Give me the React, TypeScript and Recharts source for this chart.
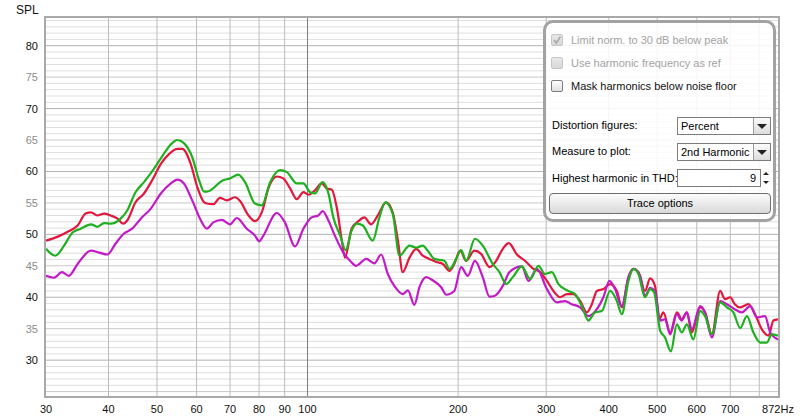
import React from 'react';
import { LineChart, Line, XAxis, YAxis, ReferenceLine } from 'recharts';

// frequency (Hz) / level (dB) pairs
const redHz = [30, 31.6, 33.3, 34.7, 36.0, 36.9, 38.0, 39.2, 40.4, 41.7, 42.8, 43.6, 45.3, 47.1, 48.9, 50.9, 52.9, 54.9, 56.2, 58.4, 60.2, 62.1, 62.9, 64.8, 66.8, 69.0, 71.6, 73.3, 76.2, 78.5, 81.1, 83.5, 86.8, 89.4, 92.3, 95.2, 98.1, 100.4, 103.5, 106.7, 109.3, 111.8, 114.5, 117.1, 118.8, 122.5, 126.4, 129.9, 134.0, 138.2, 143.6, 148.0, 151.6, 155.0, 159.9, 164.9, 170.0, 175.2, 180.8, 186.4, 192.2, 196.5, 201.9, 207.5, 215.5, 222.3, 231.1, 238.3, 245.7, 252.6, 262.1, 272.1, 282.8, 291.8, 301.0, 310.1, 319.9, 330.0, 340.0, 350.8, 361.8, 370.1, 378.8, 390.3, 402.7, 415.3, 424.9, 438.1, 448.1, 458.7, 472.7, 484.1, 495.0, 504.9, 514.5, 530.8, 547.5, 560.0, 573.2, 586.4, 609.4, 623.2, 643.1, 668.2, 683.3, 699.7, 714.7, 732.7, 761.3, 784.6, 809.5, 834.8, 853.8, 872];
const redDb = [49.0, 49.6, 50.5, 51.4, 53.3, 53.5, 53.0, 53.3, 53.0, 52.5, 51.7, 52.2, 55.1, 56.5, 58.6, 61.2, 62.8, 63.6, 63.6, 61.2, 57.5, 55.1, 54.9, 54.8, 55.8, 55.4, 55.9, 55.3, 53.0, 52.1, 53.6, 57.3, 59.2, 58.9, 57.3, 55.6, 56.7, 56.3, 57.0, 58.1, 57.3, 57.1, 54.1, 49.0, 46.3, 50.9, 52.1, 52.7, 51.6, 53.0, 55.1, 53.5, 49.0, 44.0, 46.3, 47.7, 46.6, 46.1, 45.6, 45.3, 44.2, 45.3, 47.4, 45.8, 47.4, 46.9, 44.8, 45.8, 47.7, 48.6, 46.8, 45.8, 44.5, 44.0, 42.6, 41.0, 40.0, 40.5, 40.5, 39.4, 37.6, 38.9, 41.0, 41.3, 42.1, 41.0, 38.4, 43.2, 44.5, 44.0, 41.0, 43.0, 41.8, 36.5, 37.6, 34.4, 37.6, 36.5, 37.6, 34.4, 38.4, 37.6, 34.1, 41.0, 39.7, 40.0, 38.9, 38.4, 38.9, 37.3, 34.9, 33.9, 36.3, 36.5];

const greenHz = [30, 31.3, 32.6, 33.9, 35.2, 36.9, 38.0, 39.2, 40.4, 42.3, 43.6, 45.3, 47.1, 49.3, 51.6, 53.6, 54.9, 56.6, 58.8, 60.7, 62.1, 62.9, 67.8, 70.0, 72.7, 75.0, 78.5, 81.0, 84.2, 88.1, 90.9, 95.2, 98.1, 101.2, 103.5, 107.2, 110.1, 112.6, 116.2, 119.2, 122.5, 125.5, 129.0, 135.0, 139.2, 143.0, 148.0, 152.7, 159.9, 164.9, 170.0, 173.9, 179.2, 187.7, 192.2, 198.2, 202.8, 207.5, 216.1, 224.0, 234.6, 241.9, 249.5, 257.2, 268.2, 278.6, 289.5, 298.4, 307.9, 317.4, 332.4, 342.6, 353.5, 364.4, 375.6, 387.5, 402.7, 415.3, 424.9, 438.1, 448.1, 458.7, 472.7, 484.1, 492.9, 506.9, 518.4, 532.5, 547.5, 560.0, 573.2, 590.6, 609.4, 623.2, 643.1, 668.2, 689.2, 710.1, 732.7, 755.7, 778.7, 803.4, 828.7, 847.7, 872];
const greenDb = [47.7, 46.6, 48.2, 50.3, 50.9, 51.6, 51.2, 51.8, 51.7, 52.5, 53.8, 56.7, 58.3, 60.4, 62.8, 64.5, 65.0, 64.5, 62.3, 58.6, 56.8, 56.8, 58.6, 58.9, 59.5, 58.3, 54.9, 54.6, 58.3, 60.2, 59.9, 58.1, 58.1, 56.7, 56.5, 58.3, 56.5, 52.7, 49.8, 47.5, 50.6, 51.7, 51.4, 49.0, 52.7, 55.1, 53.3, 46.6, 48.2, 47.9, 48.2, 47.4, 46.1, 45.8, 44.5, 46.1, 47.5, 45.8, 49.3, 48.2, 45.3, 44.0, 42.1, 43.2, 44.9, 42.9, 45.0, 43.7, 44.0, 42.1, 41.0, 40.5, 38.6, 36.3, 37.6, 37.8, 41.0, 39.4, 37.3, 42.6, 44.5, 43.7, 40.0, 41.3, 40.8, 34.7, 33.6, 31.4, 35.7, 34.4, 35.7, 33.3, 37.8, 37.0, 34.1, 39.2, 38.4, 37.6, 35.1, 37.0, 34.4, 32.8, 32.8, 34.1, 33.9];

const magentaHz = [30, 31.1, 32.3, 33.3, 34.7, 36.9, 38.3, 39.8, 41.3, 42.9, 44.6, 46.4, 48.6, 50.9, 53.3, 54.9, 56.6, 58.8, 61.2, 62.9, 64.8, 67.4, 70.0, 72.2, 75.6, 78.5, 80.1, 81.6, 86.8, 90.1, 94.4, 98.1, 101.9, 105.1, 107.2, 110.1, 113.4, 117.9, 121.6, 125.1, 131.0, 136.0, 140.3, 144.7, 149.1, 155.0, 158.7, 163.5, 167.4, 172.6, 177.9, 185.0, 189.3, 196.5, 202.8, 209.1, 216.1, 224.0, 231.1, 236.3, 245.7, 253.3, 268.2, 276.5, 287.4, 301.0, 315.1, 327.1, 337.5, 350.8, 364.4, 378.8, 390.3, 401.4, 411.8, 424.9, 438.1, 449.5, 462.3, 472.7, 484.1, 495.0, 506.9, 518.4, 530.8, 547.5, 560.0, 573.2, 586.4, 609.4, 623.2, 643.1, 668.2, 689.2, 714.7, 738.3, 767.2, 791.3, 821.5, 841.2, 872];
const magentaDb = [43.4, 43.1, 44.0, 43.4, 45.3, 47.4, 47.1, 46.8, 48.5, 50.1, 50.9, 52.5, 54.1, 56.5, 58.1, 58.7, 58.1, 55.4, 52.2, 50.9, 51.9, 52.3, 51.6, 52.6, 50.9, 49.8, 48.9, 49.8, 53.4, 51.9, 48.1, 50.9, 52.7, 53.0, 53.7, 52.2, 49.8, 47.1, 45.8, 45.0, 46.1, 45.4, 46.8, 43.7, 41.8, 40.5, 41.1, 38.8, 41.6, 43.2, 42.7, 41.6, 40.4, 41.0, 44.8, 43.4, 45.8, 43.2, 40.1, 40.2, 41.8, 44.0, 44.9, 42.6, 44.5, 41.3, 39.2, 39.4, 38.9, 38.4, 37.0, 38.1, 40.0, 42.6, 41.3, 38.6, 43.2, 44.5, 43.4, 40.2, 41.5, 41.0, 36.3, 36.5, 34.1, 37.3, 36.3, 37.6, 34.9, 38.6, 37.6, 33.6, 39.4, 38.9, 38.1, 37.6, 38.6, 36.8, 37.0, 34.4, 33.3];

const xTicks = [30, 40, 50, 60, 70, 80, 90, 100, 200, 300, 400, 500, 600, 700, 872];
const xGrid = [40, 50, 60, 70, 80, 90, 100, 200, 300, 400, 500, 600, 700, 800];
const yTicks = [30, 35, 40, 45, 50, 55, 60, 65, 70, 75, 80];
const yGrid = Array.from({ length: 60 }, (_, i) => 25 + i);

const font = '"Liberation Sans", Arial, sans-serif';

const toPoints = (hz: number[], db: number[]) => hz.map((f, i) => ({ f, db: db[i] }));
const redData = toPoints(redHz, redDb);
const greenData = toPoints(greenHz, greenDb);
const magentaData = toPoints(magentaHz, magentaDb);

const XTick = (props: any) => {
  const { x, y, payload } = props;
  const v = payload.value;
  return (
    <text x={x} y={y + 9} textAnchor="middle" fontSize={11} fontFamily={font} fill="#111">
      {v === 872 ? '872Hz' : v}
    </text>
  );
};

const YTick = (props: any) => {
  const { x, y, payload } = props;
  const v = payload.value;
  return (
    <text x={x} y={y + 4} textAnchor="end" fontSize={11} fontFamily={font} fill={v % 10 === 0 ? '#111' : '#8c8c8c'}>
      {v}
    </text>
  );
};

const Check = ({ top, checked, disabled, label }: { top: number; checked?: boolean; disabled?: boolean; label: string }) => (
  <>
    <div
      style={{
        position: 'absolute', left: 8, top, width: 12, height: 12, boxSizing: 'border-box',
        border: `1px solid ${disabled ? '#c6c6c6' : '#7d7d7d'}`, borderRadius: 2,
        background: disabled ? 'linear-gradient(#e8e8e8,#d8d8d8)' : 'linear-gradient(#ffffff,#e0e0e0)',
      }}
    >
      {checked && (
        <svg width={10} height={10} style={{ position: 'absolute', left: 0, top: 0 }}>
          <path d="M2 5 L4.3 8 L8.5 1.5" stroke="#a9a9a9" strokeWidth={1.6} fill="none" />
        </svg>
      )}
    </div>
    <div style={{ position: 'absolute', left: 28, top: top - 1, lineHeight: '14px', color: disabled ? '#a3a3a3' : '#111', whiteSpace: 'nowrap' }}>
      {label}
    </div>
  </>
);

const Arrow = ({ up, size = 4 }: { up?: boolean; size?: number }) => (
  <div
    style={{
      width: 0, height: 0,
      borderLeft: `${size}px solid transparent`, borderRight: `${size}px solid transparent`,
      [up ? 'borderBottom' : 'borderTop']: `${size}px solid #222`,
    } as React.CSSProperties}
  />
);

const Dropdown = ({ top, value }: { top: number; value: string }) => (
  <div style={{ position: 'absolute', left: 134, top, width: 94, height: 18, boxSizing: 'border-box', border: '1px solid #7c7c7c', background: '#fff' }}>
    <div style={{ position: 'absolute', left: 3, top: 1, lineHeight: '14px' }}>{value}</div>
    <div style={{ position: 'absolute', right: 0, top: 0, width: 17, height: 16, boxSizing: 'border-box', borderLeft: '1px solid #9a9a9a', background: 'linear-gradient(#fbfbfb,#dcdcdc)', display: 'flex', alignItems: 'center', justifyContent: 'center' }}>
      <Arrow size={5} />
    </div>
  </div>
);

const Panel = () => (
  <div style={{ position: 'absolute', left: 543, top: 20, width: 233, height: 202, fontFamily: font, fontSize: 11 }}>
    <div style={{ position: 'absolute', inset: 0, boxSizing: 'border-box', border: '3px solid #a2a2a2', borderRadius: 10, background: 'rgba(255,255,255,0.86)' }} />
    <Check top={14} checked disabled label="Limit norm. to 30 dB below peak" />
    <Check top={37} disabled label="Use harmonic frequency as ref" />
    <Check top={60} label="Mask harmonics below noise floor" />
    <div style={{ position: 'absolute', left: 9, top: 98, lineHeight: '14px' }}>Distortion figures:</div>
    <Dropdown top={97} value="Percent" />
    <div style={{ position: 'absolute', left: 9, top: 124, lineHeight: '14px' }}>Measure to plot:</div>
    <Dropdown top={123} value="2nd Harmonic" />
    <div style={{ position: 'absolute', left: 9, top: 151, lineHeight: '14px' }}>Highest harmonic in THD:</div>
    <div style={{ position: 'absolute', left: 134, top: 149, width: 84, height: 18, boxSizing: 'border-box', border: '1px solid #7c7c7c', background: '#fff' }}>
      <div style={{ position: 'absolute', right: 4, top: 1, lineHeight: '14px' }}>9</div>
    </div>
    <div style={{ position: 'absolute', left: 218, top: 149, width: 10, height: 18, display: 'flex', flexDirection: 'column', alignItems: 'center', justifyContent: 'space-around' }}>
      <Arrow up size={3} />
      <Arrow size={3} />
    </div>
    <div style={{ position: 'absolute', left: 6, top: 173, width: 222, height: 21, boxSizing: 'border-box', border: '1px solid #6e6e6e', borderRadius: 4, background: 'linear-gradient(#fcfcfc,#d9d9d9)', textAlign: 'center', lineHeight: '19px' }}>
      Trace options
    </div>
  </div>
);

const App: React.FC = () => {
  return (
    <div style={{ position: 'absolute', left: 0, top: 0, width: 800, height: 420, background: '#fff', overflow: 'hidden' }}>
      <div style={{ position: 'absolute', left: 16, top: 3, fontFamily: font, fontSize: 12, color: '#111' }}>SPL</div>
      <LineChart width={800} height={420} margin={{ top: 18, right: 22, bottom: 0, left: 0 }}>
        <XAxis
          type="number"
          dataKey="f"
          scale="log"
          domain={[30, 872]}
          ticks={xTicks}
          tick={<XTick />}
          interval={0}
          tickLine={false}
          axisLine={false}
          height={24}
          allowDataOverflow
        />
        <YAxis
          type="number"
          domain={[24.3, 84.4]}
          ticks={yTicks}
          tick={<YTick />}
          interval={0}
          tickLine={false}
          axisLine={false}
          width={46}
          allowDataOverflow
        />
        {yGrid.map((v) => (
          <ReferenceLine key={'h' + v} y={v} stroke={v % 10 === 0 ? '#b2b2b2' : v % 5 === 0 ? '#c8c8c8' : '#dedede'} strokeWidth={1} />
        ))}
        {xGrid.map((v) => (
          <ReferenceLine key={'v' + v} x={v} stroke={v === 100 ? '#7a7a7a' : '#bcbcbc'} strokeWidth={1} />
        ))}
        <Line data={redData} dataKey="db" type="monotone" stroke="#e3173d" strokeWidth={2.2} dot={false} isAnimationActive={false} />
        <Line data={magentaData} dataKey="db" type="monotone" stroke="#c21ac8" strokeWidth={2.2} dot={false} isAnimationActive={false} />
        <Line data={greenData} dataKey="db" type="monotone" stroke="#1fb01f" strokeWidth={2.2} dot={false} isAnimationActive={false} />
      </LineChart>
      <div style={{ position: 'absolute', left: 44, top: 16, width: 736, height: 382, boxSizing: 'border-box', border: '2px solid #a9a9a9', pointerEvents: 'none' }} />
      <Panel />
    </div>
  );
};

export default App;
